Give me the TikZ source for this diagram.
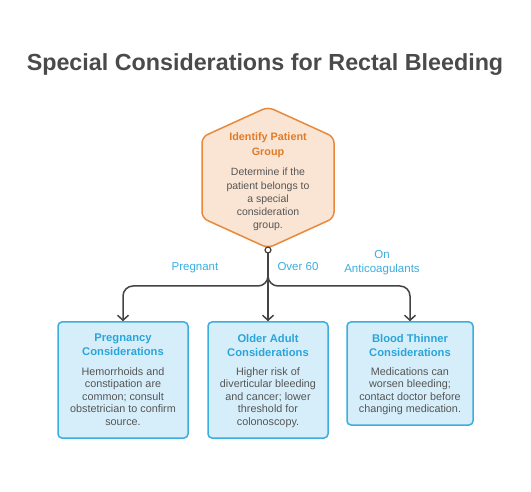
\documentclass[tikz,border=0pt]{standalone}
\usepackage{fontspec}
\setmainfont{Liberation Sans}
\usetikzlibrary{arrows.meta,calc}
\definecolor{hexborder}{HTML}{E8893C}
\definecolor{hexfill}{HTML}{FAE5D4}
\definecolor{hextitle}{HTML}{E07B27}
\definecolor{boxborder}{HTML}{3AAEDF}
\definecolor{boxfill}{HTML}{D6EEF9}
\definecolor{boxtitle}{HTML}{2AA5DA}
\definecolor{bodytext}{HTML}{555555}
\definecolor{titletext}{HTML}{4A4A4A}
\definecolor{conncol}{HTML}{444444}
\tikzset{
  cbox/.style={draw=boxborder, fill=boxfill, line width=1.5pt, rounded corners=4pt, inner sep=0pt},
  ctitle/.style={font=\fontsize{11.2}{14}\selectfont\bfseries, text=boxtitle, align=center, anchor=north, inner sep=0pt},
  cbody/.style={font=\fontsize{10.8}{12.5}\selectfont, text=bodytext, align=center, anchor=north, inner sep=0pt},
  clabel/.style={font=\fontsize{11.5}{14}\selectfont, text=boxborder, align=center, inner sep=0pt},
  conn/.style={draw=conncol, line width=1.5pt, rounded corners=10pt},
  arr/.style={-{Straight Barb[length=5pt,width=11pt,line width=1.5pt]}},
}
\begin{document}
\begin{tikzpicture}[x=1pt,y=-1pt]
\useasboundingbox (0,0) rectangle (531,492);
\node (title) at (265,65) {\fontsize{23.3}{28}\selectfont\bfseries\color{titletext}Special Considerations for Rectal Bleeding};
% hexagon
\draw[draw=hexborder, fill=hexfill, line width=1.5pt, rounded corners=6pt]
  (268,107) -- (334,137) -- (334,218) -- (268,248) -- (202,218) -- (202,137) -- cycle;
\coordinate (hexc) at (268,177);
\node[ctitle, text=hextitle, font=\fontsize{10.8}{15.5}\selectfont\bfseries] (hextitle) at (268,132) {Identify Patient\\Group};
\node[cbody, font=\fontsize{10.5}{13.2}\selectfont] (hexbody) at (268,168) {Determine if the\\patient belongs to\\a special\\consideration\\group.};
\coordinate (hexb) at (268,250);
% boxes
\node[cbox, minimum width=130pt, minimum height=116pt] (b1) at (123,380) {};
\node[cbox, minimum width=120pt, minimum height=116pt] (b2) at (268,380) {};
\node[cbox, minimum width=126pt, minimum height=103pt] (b3) at (410,373.5) {};
\node[ctitle] (t1) at (123,334) {Pregnancy\\Considerations};
\node[ctitle] (t2) at (268,334) {Older Adult\\Considerations};
\node[ctitle] (t3) at (410,334) {Blood Thinner\\Considerations};
\node[cbody] (d1) at (123,367) {Hemorrhoids and\\constipation are\\common; consult\\obstetrician to confirm\\source.};
\node[cbody] (d2) at (268,367) {Higher risk of\\diverticular bleeding\\and cancer; lower\\threshold for\\colonoscopy.};
\node[cbody] (d3) at (410,367) {Medications can\\worsen bleeding;\\contact doctor before\\changing medication.};
% connectors
\draw[conn, arr] (hexb) -- (268,286) -- (123,286) -- (b1.north);
\draw[conn, arr] (hexb) -- (268,286) -- (410,286) -- (b3.north);
\draw[conn, arr, rounded corners=0pt] (hexb) -- (b2.north);
\draw[draw=conncol, fill=white, line width=1.2pt] (hexb) circle (3pt);
% labels
\node[clabel] (l1) at (195,268) {Pregnant};
\node[clabel] (l2) at (298,267) {Over 60};
\node[clabel] (l3) at (382,263) {On\\Anticoagulants};
\end{tikzpicture}
\end{document}
